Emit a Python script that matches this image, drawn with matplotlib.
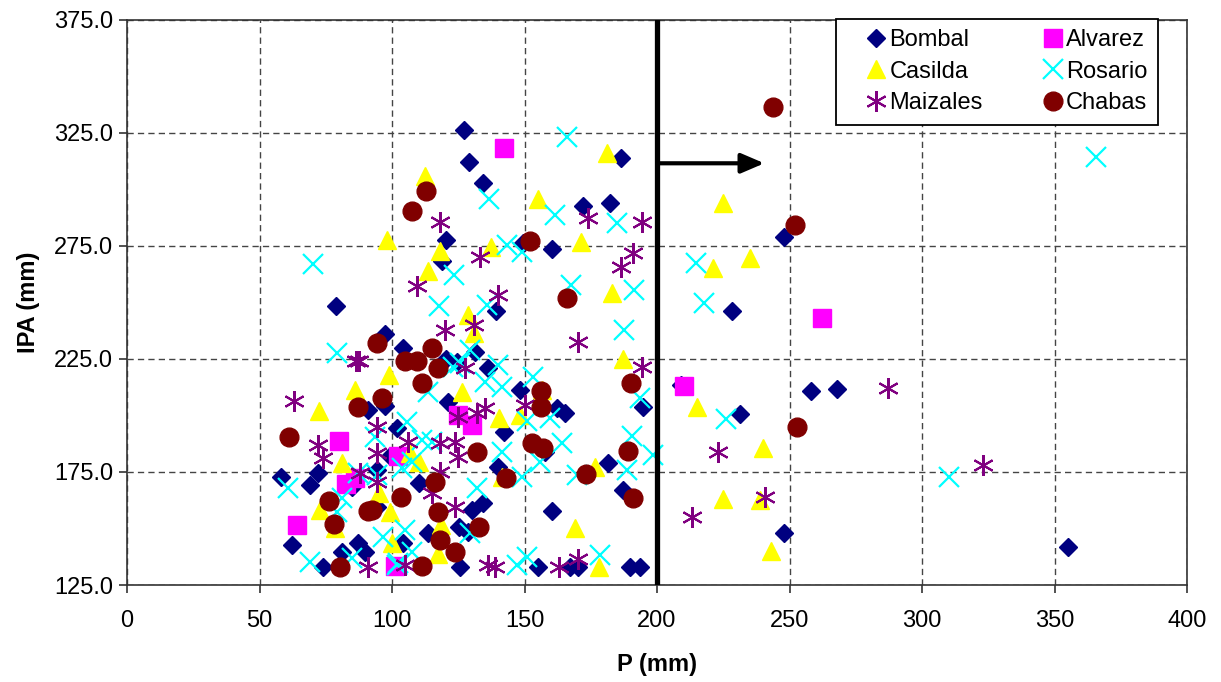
import matplotlib
matplotlib.use("Agg")
import matplotlib.pyplot as plt
from matplotlib.ticker import MultipleLocator, FormatStrFormatter

plt.rcParams['font.family'] = ['Liberation Sans', 'DejaVu Sans']

# ---------------- data ----------------
bombal_x = [127, 129.2, 134.2, 186.3, 172.2, 182.3, 120.3, 119, 149.5, 160.2,
            139.1, 79, 97.4, 228.2, 248, 209, 258, 268, 231.3, 248,
            355.2, 104.3, 120.3, 124.4, 121.3, 91, 97.4, 102, 99.2, 58.1,
            69, 72.2, 94.2, 110, 62.1, 74.1, 81, 87.3, 89.8, 94.2,
            113.7, 104.3, 131.3, 136.3, 148.3, 162.1, 165.3, 194.8, 142.4, 157.7,
            140.1, 181.4, 187.3, 160.2, 134.5, 130, 125.3, 128.8, 125.7, 155.2,
            167.2, 170.3, 189.8, 193.6, 84.8]
bombal_y = [326.3, 312.3, 303, 313.8, 292.7, 294.2, 277.6, 268.5, 276.5, 273.5,
            246.4, 248.6, 236.2, 246.4, 279, 213.5, 210.8, 211.6, 200.7, 148,
            142, 229.7, 224.8, 223.8, 206.1, 202.4, 204, 194.3, 182, 173,
            169.2, 174.4, 175.9, 170, 142.7, 133.1, 139.7, 143.4, 139.7, 159.6,
            147.9, 143.4, 228.2, 220.9, 211.3, 203.2, 201.3, 203.6, 192.9, 184,
            177.3, 179.1, 167, 157.7, 161.1, 158.2, 150.8, 148.6, 133.1, 133.1,
            133.1, 133.1, 133.1, 133.1, 168.5]

alvarez_x = [142.3, 262.3, 210.2, 64.2, 80, 82.6, 86, 102.3, 101, 124.9, 130.2]
alvarez_y = [318.4, 243.1, 213.1, 151.5, 188.7, 169.7, 172.5, 182.1, 133.4, 200.2, 195.8]

casilda_x = [112.5, 98.2, 118.1, 113.7, 181, 155.2, 137.4, 171.3, 183.1, 128.6,
             131, 225, 235.1, 221.2, 215.2, 240.1, 225, 239, 243, 187,
             126.3, 140.5, 148.3, 156.7, 176.6, 141.4, 169.1, 178.1, 98.9, 86,
             72.6, 81.2, 95.1, 99.2, 72.8, 78.5, 100.1, 106.8, 110, 118.5,
             117.5]
casilda_y = [306, 277.7, 272.9, 264.1, 316, 295.7, 274.7, 276.9, 254.3, 244.5,
             236.4, 293.9, 269.6, 265.2, 203.9, 185.5, 162.9, 162.6, 140, 224.9,
             210.5, 198.8, 200.2, 211.3, 177.4, 172.9, 150.1, 132.8, 217.9, 211.3,
             202, 178.8, 165.6, 157.4, 158.2, 150.1, 143.4, 183.4, 179.6, 151.5,
             138.6]

rosario_x = [70.3, 123.5, 117.9, 166.2, 136.7, 161.5, 184.8, 143.3, 148.9, 167.5,
             191.4, 135.7, 187.7, 214.6, 217.9, 226, 198.5, 365.5, 310.2, 129.4,
             125.7, 140.1, 135.1, 141.4, 153.3, 159.6, 164, 190.4, 193.6, 188.6,
             169.7, 155.8, 148.9, 141.4, 150.8, 132, 129.4, 150.8, 178.5, 79.1,
             60.9, 69.1, 84.8, 79.1, 81, 87.3, 93.6, 105.5, 107.4, 113.7,
             104.9, 96.7, 107.4, 102.4, 123.1, 115, 111.2, 103.7, 94.2, 147,
             101.7]
rosario_y = [267, 262.2, 248.5, 323.4, 295.7, 288.7, 285, 275.4, 272.5, 257.7,
             255.5, 248.9, 237.8, 267.3, 249.9, 198.3, 182.5, 314.2, 172.9, 229,
             223.1, 222.3, 215, 212.7, 217.2, 198.8, 187.7, 190.9, 207.6, 175.9,
             173.7, 179.6, 172.9, 184, 197.7, 167.8, 147.9, 137.5, 138.3, 227.5,
             167.8, 135.3, 136.8, 157.4, 163.4, 174.4, 190.6, 197.3, 179.6, 210.5,
             149.3, 146.4, 139.7, 134.6, 221.6, 188.4, 189.2, 176.6, 173.7, 133.8,
             133.8]

maizales_x = [118.1, 109.3, 120, 174.1, 194.2, 133.2, 191.1, 186.3, 140.1, 131,
              170.1, 194.2, 127.5, 135.1, 150.2, 132, 125, 125, 136.3, 138.9,
              163, 170.1, 287, 223.1, 240.8, 213.3, 323.1, 63.1, 87.7, 86.3,
              72, 74.1, 87.9, 94.2, 94.2, 94.2, 91.1, 106.2, 118.1, 123.8,
              115, 123.8, 118.1, 104.9]
maizales_y = [285.7, 257.3, 237.8, 287.2, 285.7, 270.3, 272, 265.8, 253.3, 240,
              232.5, 221.6, 220.9, 203.2, 204.6, 200.9, 199.5, 181.8, 133.8, 133.1,
              133.1, 136.4, 212, 184, 164.1, 155.2, 178.1, 206.5, 224.1, 224.1,
              187, 181.1, 174.4, 195.1, 183.3, 170.7, 133.1, 188.4, 187.7, 188.4,
              165.6, 159.6, 175.1, 133.8]

chabas_x = [243.8, 252.1, 252.8, 107.5, 112.8, 152.1, 166, 94.2, 115, 104.9,
            109.3, 117.2, 111.2, 96.1, 87.1, 61.1, 76.2, 78.2, 91.1, 103.3,
            116.2, 117.2, 118.1, 123.8, 80.4, 156.1, 156.1, 152.9, 157.1, 132.2,
            143, 132.9, 190.1, 189.1, 173.1, 191.1, 111.2, 92.3]
chabas_y = [336.5, 284.3, 194.9, 290.5, 299.3, 277.2, 252, 232.2, 229.7, 224.2,
            224.2, 220.9, 214.2, 207.6, 203.9, 190.6, 162.3, 151.9, 157.9, 164.1,
            170.7, 157.4, 144.9, 139.7, 133.1, 211, 203.6, 188, 185.5, 183.7,
            172.2, 150.8, 214.2, 184.4, 174.1, 163.6, 133.4, 158.2]

threshold_x = 200
arrow_y = 311.6
arrow_end_x = 240.5

x_ticks_step = 50
y_ticks = [125, 175, 225, 275, 325, 375]

# ---------------- figure ----------------
fig = plt.figure(figsize=(12.21, 6.82), dpi=100)
ax = fig.add_axes([127/1221, 1 - 585/682, 1060/1221, 565/682])

common = dict(linestyle='none')
h_bombal, = ax.plot(bombal_x, bombal_y, marker='D', ms=9.5, color='#000080',
                    mec='#000080', label='Bombal', **common)
h_alvarez, = ax.plot(alvarez_x, alvarez_y, marker='s', ms=12.5, color='#FF00FF',
                     mec='#FF00FF', label='Alvarez', **common)
h_casilda, = ax.plot(casilda_x, casilda_y, marker='^', ms=13.5, color='#FFFF00',
                     mec='#FFFF00', label='Casilda', **common)
h_rosario, = ax.plot(rosario_x, rosario_y, marker='x', ms=14, mew=1.6,
                     color='#00FFFF', label='Rosario', **common)
h_maizales, = ax.plot(maizales_x, maizales_y, marker=(6, 2, 0), ms=15, mew=1.5,
                      color='#800080', label='Maizales', **common)
h_chabas, = ax.plot(chabas_x, chabas_y, marker='o', ms=13.5, color='#800000',
                    mec='#800000', label='Chabas', **common)

ax.axvline(threshold_x, color='black', lw=3.8, zorder=5)
ax.annotate('', xy=(arrow_end_x, arrow_y), xytext=(threshold_x, arrow_y),
            arrowprops=dict(arrowstyle='-|>,head_length=1.4,head_width=0.6',
                            lw=3, color='black', shrinkA=0, shrinkB=0,
                            mutation_scale=10),
            zorder=5)

ax.set_xlim(0, 400)
ax.set_ylim(125, 375)
ax.xaxis.set_major_locator(MultipleLocator(x_ticks_step))
ax.set_yticks(y_ticks)
ax.yaxis.set_major_formatter(FormatStrFormatter('%.1f'))

ax.grid(True, color='#444444', linestyle=(0, (4.5, 3)), lw=1)
ax.set_axisbelow(True)
for s in ax.spines.values():
    s.set_color('#333333')
    s.set_linewidth(1.2)

ax.tick_params(direction='out', length=6, width=1.2, color='#333333',
               labelsize=17, pad=4)
ax.tick_params(axis='x', pad=12)

ax.set_xlabel('P (mm)', fontsize=17, fontweight='bold', labelpad=15)
ax.set_ylabel('IPA (mm)', fontsize=17, fontweight='bold', labelpad=10)

handles = [h_bombal, h_casilda, h_maizales, h_alvarez, h_rosario, h_chabas]
leg = ax.legend(handles=handles, labels=[h.get_label() for h in handles],
                ncol=2, loc='upper left', bbox_to_anchor=(0.669, 1.002),
                borderaxespad=0, fancybox=False, framealpha=1,
                edgecolor='black', fontsize=17, handlelength=2.5,
                handletextpad=-0.7, labelspacing=0.39, columnspacing=1.72,
                borderpad=0.45, markerscale=1.0)
leg.get_frame().set_linewidth(1.3)
leg.set_zorder(10)

fig.savefig('out.png', dpi=100)
